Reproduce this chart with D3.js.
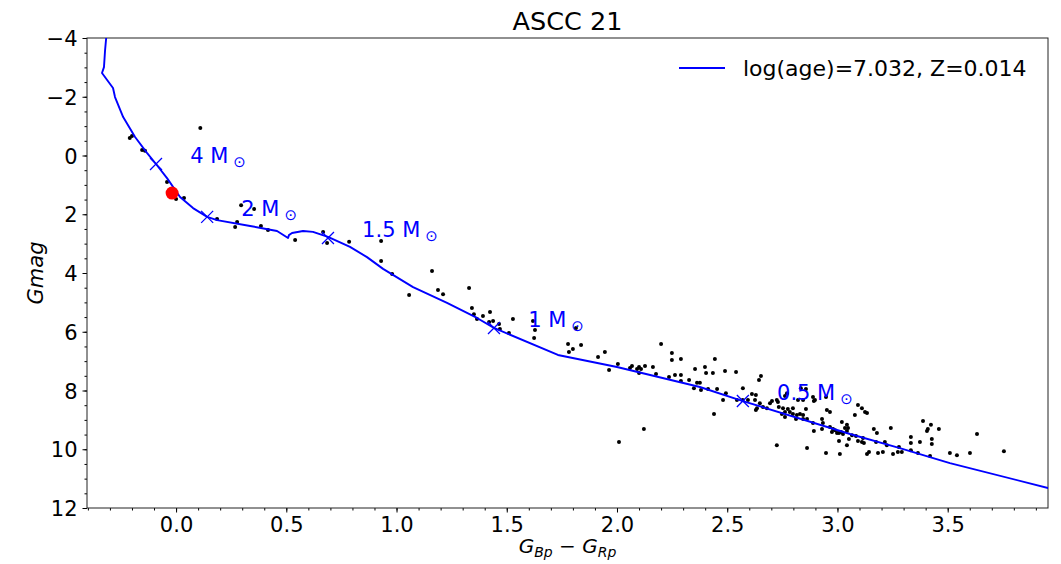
<!DOCTYPE html>
<html>
<head>
<meta charset="utf-8">
<script src="https://cdn.jsdelivr.net/npm/d3@7"></script>
<style>
  body { margin: 0; background: #fff; }
  text { font-family: "DejaVu Sans", sans-serif; }
</style>
</head>
<body>
<div id="chart"></div>
<script>
'use strict';
// isochrone track (BP-RP, G)
let isoBpRp = [-0.315, -0.317, -0.322, -0.327, -0.336, -0.286, -0.277, -0.240, -0.186, -0.132,
  -0.091, -0.041, 0.018, 0.077, 0.141, 0.186, 0.336, 0.458, 0.508, 0.512, 0.526, 0.576, 0.621,
  0.689, 0.789, 0.866, 0.939, 1.075, 1.229, 1.365, 1.442, 1.732, 2.000, 2.376, 2.571, 3.057,
  3.283, 3.510, 3.955, 4.01];
let isoG = [-4.27, -4.0, -3.59, -3.01, -2.81, -2.30, -1.99, -1.31, -0.63, -0.09,
  0.29, 0.77, 1.41, 1.79, 2.09, 2.20, 2.40, 2.57, 2.81, 2.71, 2.64, 2.57, 2.60,
  2.77, 3.11, 3.46, 3.86, 4.48, 5.02, 5.53, 5.87, 6.79, 7.20, 7.88, 8.36, 9.48,
  9.96, 10.47, 11.32, 11.42];

// member stars
let starBpRp = [0.11, -0.21, -0.20, -0.154, -0.141, -0.041, 0.000, 0.036, 0.295, 0.354,
  0.186, 0.277, 0.268, 0.385, 0.417, 0.540, 0.667, 0.685, 0.785, 0.930,
  0.930, 0.980, 1.057, 1.161, 1.188, 1.211, 1.329, 1.342, 1.351, 1.365,
  1.392, 1.424, 1.420, 1.438, 1.465, 1.469, 1.510, 1.528, 1.619, 1.628,
  1.624, 1.814, 1.778, 1.782, 1.800, 1.837, 1.914, 1.945, 1.964, 2.004,
  2.059, 2.068, 2.091, 2.100, 2.109, 2.100, 2.127, 2.163, 2.177, 2.200,
  2.249, 2.249, 2.290, 2.236, 2.263, 2.290, 2.290, 2.327, 2.354, 2.363,
  2.376, 2.349, 2.381, 2.399, 2.404, 2.435, 2.444, 2.413, 2.454, 2.122,
  2.009, 2.440, 2.490, 2.540, 2.494, 2.481, 2.544, 2.571, 2.57, 2.594,
  2.612, 2.626, 2.635, 2.648, 2.662, 2.680, 2.694, 2.703, 2.644, 2.653,
  2.725, 2.734, 2.753, 2.748, 2.762, 2.775, 2.798, 2.798, 2.812, 2.830,
  2.844, 2.844, 2.834, 2.844, 2.893, 2.889, 2.857, 2.862, 2.889, 2.893,
  2.930, 2.930, 2.952, 2.966, 2.948, 2.966, 2.980, 3.007, 3.025, 3.034,
  3.048, 3.043, 3.020, 2.725, 2.862, 2.948, 3.011, 3.007, 3.043, 2.630,
  2.630, 2.730, 2.762, 2.784, 2.816, 2.762, 2.771, 2.821, 2.857, 2.898,
  2.975, 2.989, 2.998, 3.016, 3.043, 3.052, 3.066, 3.079, 3.084, 3.093,
  3.111, 3.116, 3.120, 3.134, 3.143, 3.165, 3.175, 3.179, 3.184, 3.206,
  3.215, 3.224, 3.242, 3.252, 3.279, 3.274, 3.292, 3.333, 3.333, 3.333,
  3.365, 3.374, 3.388, 3.406, 3.410, 3.424, 3.428, 3.428, 3.420, 3.460,
  3.510, 3.542, 3.601, 3.633, 3.755, 3.093, 3.111, 3.125, 3.134, 2.934];
let starG = [-0.94, -0.60, -0.66, -0.19, -0.16, 0.90, 1.48, 1.45, 1.69, 1.82,
  2.16, 2.26, 2.43, 2.40, 2.54, 2.88, 2.60, 2.98, 2.94, 2.91,
  3.59, 4.03, 4.75, 3.93, 4.58, 4.72, 4.51, 5.19, 5.40, 5.57,
  5.46, 5.33, 5.67, 5.63, 5.74, 5.91, 6.04, 5.57, 5.63, 5.94,
  6.21, 5.87, 6.42, 6.69, 6.59, 6.45, 6.86, 6.69, 7.30, 7.10,
  7.23, 7.17, 7.27, 7.20, 7.27, 7.40, 7.17, 7.20, 7.44, 6.42,
  6.72, 6.96, 6.93, 7.54, 7.47, 7.47, 7.68, 7.64, 7.27, 7.74,
  7.74, 7.92, 7.98, 7.20, 7.40, 7.40, 6.93, 7.95, 7.95, 9.31,
  9.75, 8.80, 7.34, 7.37, 8.09, 8.32, 8.32, 7.92, 8.32, 8.32,
  8.12, 8.32, 8.60, 8.43, 8.56, 8.60, 8.43, 8.36, 7.64, 7.51,
  8.32, 8.56, 8.60, 8.80, 8.90, 8.63, 8.60, 8.80, 8.97, 8.80,
  8.83, 8.97, 7.92, 8.32, 8.36, 8.22, 8.63, 8.97, 9.11, 9.38,
  8.97, 9.31, 8.66, 8.73, 8.22, 9.24, 9.31, 9.45, 9.48, 9.28,
  9.28, 9.17, 9.07, 9.86, 9.96, 10.13, 10.16, 9.72, 9.86, 8.15,
  8.66, 8.39, 8.73, 8.73, 8.83, 8.19, 8.09, 8.32, 7.95, 8.32,
  9.41, 9.35, 9.45, 9.41, 9.38, 9.65, 9.52, 8.83, 9.55, 9.72,
  9.75, 9.62, 9.79, 10.16, 10.09, 9.31, 9.75, 9.45, 10.13, 10.09,
  9.75, 9.86, 9.28, 10.16, 9.92, 10.09, 10.09, 10.03, 9.79, 9.58,
  10.13, 9.75, 9.04, 9.38, 9.31, 9.17, 9.65, 9.82, 10.23, 9.31,
  10.13, 10.20, 10.13, 9.48, 10.07, 8.49, 8.60, 8.73, 8.77, 9.11];

// highlighted star
let redBpRp = [-0.018];
let redG = [1.28];

// mass points on the isochrone
let massNames = ["4", "2", "1.5", "1", "0.5"];
let massBpRp = [-0.091, 0.141, 0.689, 1.442, 2.571];
let massG = [0.29, 2.09, 2.81, 5.87, 8.36];

let titleText = "ASCC 21";
let legendText = "log(age)=7.032, Z=0.014";
let xTicks = [0, 0.5, 1, 1.5, 2, 2.5, 3, 3.5];
let yTicks = [-4, -2, 0, 2, 4, 6, 8, 10, 12];

function drawCMD() {
  let width = 1061, height = 564;
  let left = 87, right = 1048, top = 38, bottom = 508;

  let svg = d3.select("#chart").append("svg")
    .attr("width", width)
    .attr("height", height);

  let x = d3.scaleLinear().domain([-0.404, 3.955]).range([left, right]);
  let y = d3.scaleLinear().domain([-4, 12]).range([top, bottom]);

  svg.append("clipPath").attr("id", "plotClip")
    .append("rect")
    .attr("x", left).attr("y", top)
    .attr("width", right - left).attr("height", bottom - top);

  // minor ticks first, majors on top
  let xMinor = d3.range(-0.4, 3.96, 0.1).map(function (d) { return Math.round(d * 10) / 10; });
  let yMinor = d3.range(-4, 12.01, 0.5);

  svg.append("g")
    .attr("transform", "translate(0," + bottom + ")")
    .call(d3.axisBottom(x).tickValues(xMinor).tickSize(2.5).tickFormat(""))
    .call(function (g) { g.select(".domain").remove(); });
  svg.append("g")
    .attr("transform", "translate(" + left + ",0)")
    .call(d3.axisLeft(y).tickValues(yMinor).tickSize(2.5).tickFormat(""))
    .call(function (g) { g.select(".domain").remove(); });

  let xAxis = svg.append("g")
    .attr("transform", "translate(0," + bottom + ")")
    .call(d3.axisBottom(x).tickValues(xTicks).tickSize(4.5).tickPadding(5).tickFormat(d3.format(".1f")));
  xAxis.select(".domain").remove();
  xAxis.selectAll("text").attr("font-size", "21px").attr("fill", "#000")
    .style("font-family", "DejaVu Sans")
    .text(function (d) { return d3.format(".1f")(d).replace("-", "\u2212"); });

  let yAxis = svg.append("g")
    .attr("transform", "translate(" + left + ",0)")
    .call(d3.axisLeft(y).tickValues(yTicks).tickSize(4.5).tickPadding(5));
  yAxis.select(".domain").remove();
  yAxis.selectAll("text").attr("font-size", "21px").attr("fill", "#000")
    .attr("dy", "0.36em")
    .style("font-family", "DejaVu Sans")
    .text(function (d) { return String(d).replace("-", "\u2212"); });

  // frame
  svg.append("rect")
    .attr("x", left).attr("y", top)
    .attr("width", right - left).attr("height", bottom - top)
    .attr("fill", "none").attr("stroke", "#222").attr("stroke-width", 1);

  let plot = svg.append("g").attr("clip-path", "url(#plotClip)");

  // stars
  plot.selectAll("circle.star")
    .data(d3.range(starBpRp.length))
    .enter().append("circle")
    .attr("class", "star")
    .attr("cx", function (i) { return x(starBpRp[i]); })
    .attr("cy", function (i) { return y(starG[i]); })
    .attr("r", 2)
    .attr("fill", "#000");

  // isochrone
  let line = d3.line()
    .x(function (i) { return x(isoBpRp[i]); })
    .y(function (i) { return y(isoG[i]); });
  plot.append("path")
    .datum(d3.range(isoBpRp.length))
    .attr("d", line)
    .attr("fill", "none")
    .attr("stroke", "blue")
    .attr("stroke-width", 1.9)
    .attr("stroke-linejoin", "round");

  // red star
  plot.selectAll("circle.red")
    .data(d3.range(redBpRp.length))
    .enter().append("circle")
    .attr("cx", function (i) { return x(redBpRp[i]); })
    .attr("cy", function (i) { return y(redG[i]); })
    .attr("r", 6.5)
    .attr("fill", "red");

  // mass markers and labels
  let mass = plot.selectAll("g.mass")
    .data(d3.range(massNames.length))
    .enter().append("g")
    .attr("transform", function (i) { return "translate(" + x(massBpRp[i]) + "," + y(massG[i]) + ")"; });
  mass.append("path")
    .attr("d", "M-6,-6L6,6M-6,6L6,-6")
    .attr("stroke", "blue")
    .attr("stroke-width", 1.3);
  let lbl = mass.append("text")
    .attr("x", x(0.155) - x(0))
    .attr("y", -1)
    .attr("font-size", "21px")
    .attr("fill", "blue");
  lbl.append("tspan").text(function (i) { return massNames[i] + " M"; });
  lbl.append("tspan").attr("dx", 5).attr("dy", 4).attr("font-size", "15px").text("\u2299");

  // title
  svg.append("text")
    .attr("x", (left + right) / 2)
    .attr("y", 30)
    .attr("text-anchor", "middle")
    .attr("font-size", "25.5px")
    .text(titleText);

  // legend
  svg.append("line")
    .attr("x1", 679).attr("x2", 725)
    .attr("y1", 68).attr("y2", 68)
    .attr("stroke", "blue").attr("stroke-width", 1.9);
  svg.append("text")
    .attr("x", 743).attr("y", 76)
    .attr("font-size", "22px")
    .text(legendText);

  // axis labels
  svg.append("text")
    .attr("transform", "translate(43," + ((top + bottom) / 2) + ") rotate(-90)")
    .attr("text-anchor", "middle")
    .attr("font-size", "21px")
    .attr("font-style", "italic")
    .text("Gmag");

  let xl = svg.append("text")
    .attr("x", (left + right) / 2)
    .attr("y", 553)
    .attr("text-anchor", "middle")
    .attr("font-size", "20px");
  xl.append("tspan").attr("font-style", "italic").text("G");
  xl.append("tspan").attr("font-style", "italic").attr("font-size", "14px").attr("dy", 4).text("Bp");
  xl.append("tspan").attr("dy", -4).text(" \u2212 ");
  xl.append("tspan").attr("font-style", "italic").text("G");
  xl.append("tspan").attr("font-style", "italic").attr("font-size", "14px").attr("dy", 4).text("Rp");
}

drawCMD();
</script>
</body>
</html>
